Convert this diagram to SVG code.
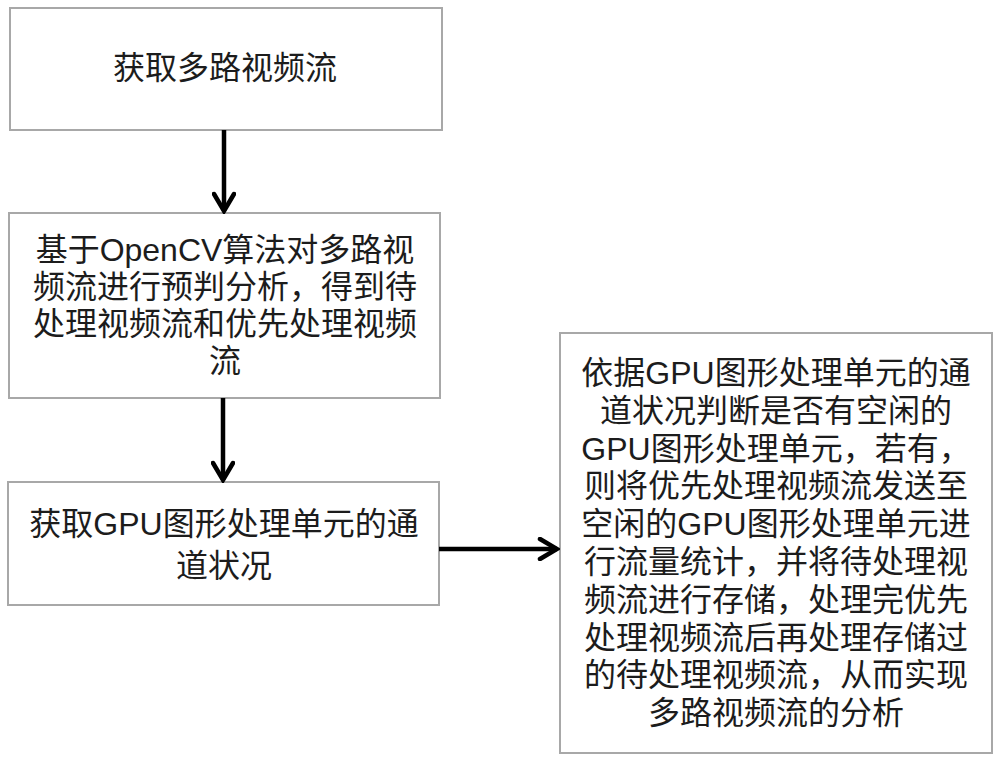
<svg xmlns="http://www.w3.org/2000/svg" width="1000" height="761" viewBox="0 0 1000 761">
<style>
.box{fill:#fff;stroke:#a8a8a8;stroke-width:2}
.t{font-family:"Liberation Sans","Noto Sans CJK SC",sans-serif;font-size:32px;fill:#1c1c1c;text-anchor:middle}
.c{fill:none;stroke:#000;stroke-width:4.5}
</style>
<defs>
<marker id="ah2" viewBox="0 0 24 24" refX="21" refY="12" markerWidth="24" markerHeight="24" markerUnits="userSpaceOnUse" orient="auto">
<path d="M4,2 L21,12 L4,22" fill="none" stroke="#000" stroke-width="4.5" stroke-linecap="round" stroke-linejoin="miter"/>
</marker>
</defs>
<rect width="1000" height="761" fill="#fff"/>
<g id="n1">
<rect class="box" x="10" y="8" width="432" height="122"/>
<text class="t" x="225" y="79">获取多路视频流</text>
</g>
<g id="n2">
<rect class="box" x="9" y="213" width="431" height="185"/>
<text class="t" x="225" y="261"><tspan x="225">基于OpenCV算法对多路视</tspan><tspan x="225" dy="37">频流进行预判分析，得到待</tspan><tspan x="225" dy="37">处理视频流和优先处理视频</tspan><tspan x="225" dy="37">流</tspan></text>
</g>
<g id="n3">
<rect class="box" x="8" y="482" width="431" height="123"/>
<text class="t" x="224" y="535"><tspan x="224">获取GPU图形处理单元的通</tspan><tspan x="224" dy="42">道状况</tspan></text>
</g>
<g id="n4">
<rect class="box" x="560" y="333" width="432" height="420"/>
<text class="t" x="776" y="384"><tspan x="776">依据GPU图形处理单元的通</tspan><tspan x="776" dy="37.8">道状况判断是否有空闲的</tspan><tspan x="776" dy="37.8">GPU图形处理单元，若有，</tspan><tspan x="776" dy="37.8">则将优先处理视频流发送至</tspan><tspan x="776" dy="37.8">空闲的GPU图形处理单元进</tspan><tspan x="776" dy="37.8">行流量统计，并将待处理视</tspan><tspan x="776" dy="37.8">频流进行存储，处理完优先</tspan><tspan x="776" dy="37.8">处理视频流后再处理存储过</tspan><tspan x="776" dy="37.8">的待处理视频流，从而实现</tspan><tspan x="776" dy="37.8">多路视频流的分析</tspan></text>
</g>
<g id="connectors">
<path class="c" d="M224,130 L224,211" marker-end="url(#ah2)"/>
<path class="c" d="M223,398 L223,480" marker-end="url(#ah2)"/>
<path class="c" d="M439,549 L557,549" marker-end="url(#ah2)"/>
</g>
</svg>
